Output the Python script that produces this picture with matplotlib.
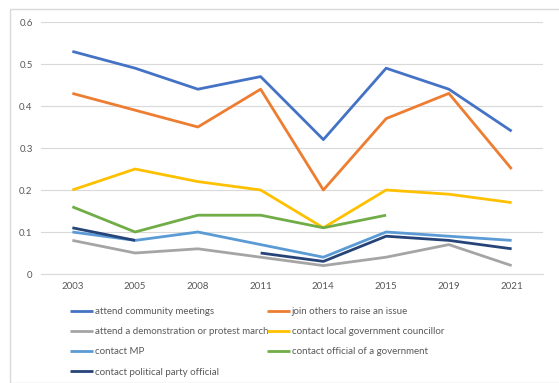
import matplotlib
matplotlib.use("Agg")
import matplotlib.pyplot as plt
import numpy as np
from matplotlib.patches import Rectangle

years = ["2003", "2005", "2008", "2011", "2014", "2015", "2019", "2021"]

community = [0.53, 0.49, 0.44, 0.47, 0.32, 0.49, 0.44, 0.34]
join_others = [0.43, 0.39, 0.35, 0.44, 0.20, 0.37, 0.43, 0.25]
demonstration = [0.08, 0.05, 0.06, 0.04, 0.02, 0.04, 0.07, 0.02]
councillor = [0.20, 0.25, 0.22, 0.20, 0.11, 0.20, 0.19, 0.17]
contact_mp = [0.10, 0.08, 0.10, 0.07, 0.04, 0.10, 0.09, 0.08]
gov_official = [0.16, 0.10, 0.14, 0.14, 0.11, 0.14, np.nan, np.nan]
party_official = [0.11, 0.08, np.nan, 0.05, 0.03, 0.09, 0.08, 0.06]

series = [
    ("attend community meetings", community, "#4472C4"),
    ("join others to raise an issue", join_others, "#ED7D31"),
    ("attend a demonstration or protest march", demonstration, "#A5A5A5"),
    ("contact local government councillor", councillor, "#FFC000"),
    ("contact MP", contact_mp, "#5B9BD5"),
    ("contact official of a government", gov_official, "#70AD47"),
    ("contact political party official", party_official, "#264478"),
]

plt.rcParams["font.family"] = ["Lato", "DejaVu Sans"]
text_color = "#595959"

fig = plt.figure(figsize=(5.59, 3.83), dpi=100)
fig.patches.append(Rectangle((10 / 559, 0), 1, 1 - 9 / 383, transform=fig.transFigure,
                             fill=False, edgecolor="#D9D9D9", linewidth=1))
ax = fig.add_axes([41 / 559, 1 - 274 / 383, 502 / 559, 252 / 383])

x = np.arange(len(years))
lines = {}
for label, vals, color in series:
    (ln,) = ax.plot(x, vals, color=color, linewidth=2.0, label=label, solid_capstyle="butt")
    lines[label] = ln

ax.set_xlim(-0.5, len(years) - 0.5)
ax.set_ylim(0, 0.6)
ax.set_yticks([0, 0.1, 0.2, 0.3, 0.4, 0.5, 0.6])
ax.set_yticklabels(["0", "0.1", "0.2", "0.3", "0.4", "0.5", "0.6"])
ax.set_xticks(x)
ax.set_xticklabels(years)
ax.tick_params(length=0, labelsize=7, colors=text_color, pad=6)
ax.tick_params(axis="y", pad=6)
ax.grid(axis="y", color="#D9D9D9", linewidth=0.8)
ax.set_axisbelow(True)
for side in ["top", "right", "left"]:
    ax.spines[side].set_visible(False)
ax.spines["bottom"].set_color("#D9D9D9")

left_labels = [series[i][0] for i in (0, 2, 4, 6)]
right_labels = [series[i][0] for i in (1, 3, 5)]
legend_kw = dict(frameon=False, fontsize=7, handlelength=2.4, handletextpad=0.15,
                 labelspacing=1.15, labelcolor=text_color, loc="upper left",
                 borderpad=0, borderaxespad=0)
leg1 = fig.legend([lines[l] for l in left_labels], left_labels,
                  bbox_to_anchor=(70 / 559, 1 - 307 / 383), **legend_kw)
leg2 = fig.legend([lines[l] for l in right_labels], right_labels,
                  bbox_to_anchor=(267 / 559, 1 - 307 / 383), **legend_kw)

fig.savefig("out.png", dpi=100)
